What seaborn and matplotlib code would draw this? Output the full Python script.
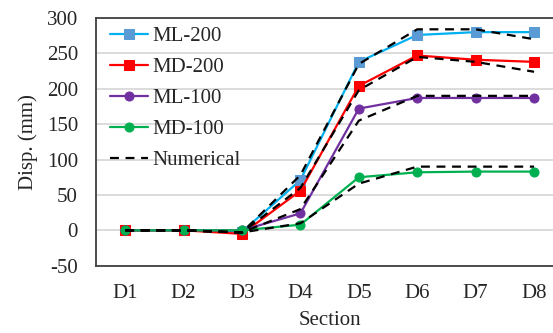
import numpy as np
import pandas as pd
import seaborn as sns
import matplotlib
matplotlib.use('Agg')
import matplotlib.pyplot as plt

sections = ['D1', 'D2', 'D3', 'D4', 'D5', 'D6', 'D7', 'D8']
ml200 = [0, 0, -2, 71, 238, 276, 280, 280]
md200 = [0, 0, -5, 56, 204, 247, 241, 238]
ml100 = [0, 0, 0, 24, 172, 187, 187, 187]
md100 = [0, 0, 0, 8, 75, 82, 83, 83]
num_ml200 = [0, 0, -3, 78, 235, 284, 284, 270]
num_md200 = [0, 0, -3, 60, 198, 245, 238, 224]
num_ml100 = [0, 0, -3, 30, 155, 190, 190, 190]
num_md100 = [0, 0, -3, 10, 66, 90, 90, 90]

sns.set_style('white')
plt.rcParams['font.family'] = ['Liberation Serif', 'DejaVu Serif']
plt.rcParams['axes.unicode_minus'] = False
fs = 15

fig = plt.figure(figsize=(5.53, 3.33), dpi=100)
ax = fig.add_axes([0.1736, 0.202, 0.845, 0.744])

pos = np.arange(len(sections))
series = [
    ('ML-200', ml200, '#00B0F0', '#5B9BD5', 's'),
    ('MD-200', md200, '#FF0000', '#FF0000', 's'),
    ('ML-100', ml100, '#7030A0', '#7030A0', 'o'),
    ('MD-100', md100, '#00B050', '#00B050', 'o'),
]
for name, vals, lc, mc, mk in series:
    sns.lineplot(x=pos, y=vals, ax=ax, color=lc, marker=mk, markersize=6.5,
                 markerfacecolor=mc, markeredgecolor=mc, linewidth=1.6,
                 label=name, zorder=3)

for i, vals in enumerate([num_ml200, num_md200, num_ml100, num_md100]):
    sns.lineplot(x=pos, y=vals, ax=ax, color='black', linestyle=(0, (4, 3)),
                 linewidth=1.6, label='Numerical' if i == 0 else None, zorder=4)

ax.set_xlim(-0.5, 7.5)
ax.set_ylim(-50, 300)
ax.set_yticks(range(-50, 301, 50))
ax.set_xticks(pos)
ax.set_xticklabels(sections)
ax.tick_params(axis='x', length=0, labelsize=fs, pad=13)
ax.tick_params(axis='y', length=0, labelsize=fs, pad=13)
ax.yaxis.grid(True, color='#D9D9D9', linewidth=1.3)
ax.set_axisbelow(True)
for s in ax.spines.values():
    s.set_color('#404040')
    s.set_linewidth(1.3)
ax.set_xlabel('Section', fontsize=fs, labelpad=6)
ax.set_ylabel('Disp. (mm)', fontsize=fs, labelpad=6)

ax.legend(loc='upper left', frameon=False, fontsize=fs, handlelength=1.8,
          handletextpad=0.2, labelspacing=0.55, borderaxespad=0.0,
          bbox_to_anchor=(0.013, 1.0))

fig.savefig('out.png', dpi=100)
